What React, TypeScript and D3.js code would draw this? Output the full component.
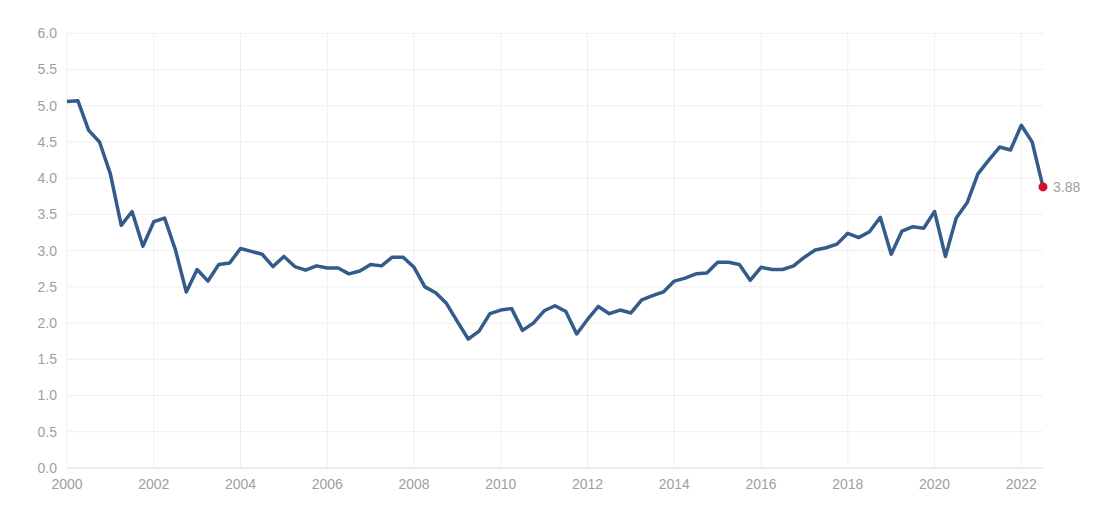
import React from "react";
import * as d3 from "d3";

const startYear = 2000;
const values: number[] = [
  5.06, 5.07, 4.66, 4.50,
  4.06, 3.35, 3.54, 3.06,
  3.40, 3.45, 3.01, 2.43,
  2.74, 2.58, 2.81, 2.83,
  3.03, 2.99, 2.95, 2.78,
  2.92, 2.78, 2.73, 2.79,
  2.76, 2.76, 2.68, 2.72,
  2.81, 2.79, 2.91, 2.91,
  2.77, 2.50, 2.42, 2.27,
  2.02, 1.78, 1.89, 2.13,
  2.18, 2.20, 1.90, 2.00,
  2.17, 2.24, 2.16, 1.85,
  2.05, 2.23, 2.13, 2.18,
  2.14, 2.32, 2.38, 2.43,
  2.58, 2.62, 2.68, 2.69,
  2.84, 2.84, 2.81, 2.59,
  2.77, 2.74, 2.74, 2.79,
  2.91, 3.01, 3.04, 3.09,
  3.24, 3.18, 3.26, 3.46,
  2.95, 3.27, 3.33, 3.31,
  3.54, 2.92, 3.45, 3.66,
  4.06, 4.25, 4.43, 4.39,
  4.73, 4.50, 3.88,
];
const xTicks: number[] = [2000, 2002, 2004, 2006, 2008, 2010, 2012, 2014, 2016, 2018, 2020, 2022];
const yTicks: number[] = [0, 0.5, 1, 1.5, 2, 2.5, 3, 3.5, 4, 4.5, 5, 5.5, 6];

const data = values.map((v, i) => ({ t: startYear + i * 0.25, v }));

export default function App() {
  const W = 1112, H = 507;
  const left = 67, right = 1043, top = 33.3, bottom = 468;
  const x = d3.scaleLinear().domain([data[0].t, data[data.length - 1].t]).range([left, right]);
  const y = d3.scaleLinear().domain([0, 6]).range([bottom, top]);
  const line = d3.line<{ t: number; v: number }>().x(d => x(d.t)).y(d => y(d.v));
  const last = data[data.length - 1];
  const font = "'Liberation Sans', Arial, sans-serif";
  return (
    <svg width={W} height={H} style={{ position: "absolute", left: 0, top: 0, background: "#fff" }}>
      {yTicks.map(t => (
        <g key={"y" + t}>
          <line x1={left} x2={right} y1={y(t)} y2={y(t)} stroke={t === 0 ? "#dcdcdc" : "#efefef"} strokeWidth={1} />
          <text x={57} y={y(t)} dy="0.35em" textAnchor="end" fontFamily={font} fontSize={14} fill="#a0a0a0">{t.toFixed(1)}</text>
        </g>
      ))}
      {xTicks.map(t => (
        <g key={"x" + t}>
          {t !== 2000 && <line x1={x(t)} x2={x(t)} y1={top} y2={bottom} stroke="#efefef" strokeWidth={1} />}
          <text x={x(t)} y={489} textAnchor="middle" fontFamily={font} fontSize={14} fill="#a0a0a0">{t}</text>
        </g>
      ))}
      <line x1={left} x2={left} y1={top} y2={bottom} stroke="#efefef" strokeWidth={1} />
      <path d={line(data) || ""} fill="none" stroke="#335b8b" strokeWidth={3.5} strokeLinejoin="round" />
      <circle cx={x(last.t)} cy={y(last.v)} r={4.5} fill="#d7102a" />
      <text x={x(last.t) + 10} y={y(last.v)} dy="0.35em" fontFamily={font} fontSize={14} fill="#a0a0a0">{last.v.toFixed(2)}</text>
    </svg>
  );
}
